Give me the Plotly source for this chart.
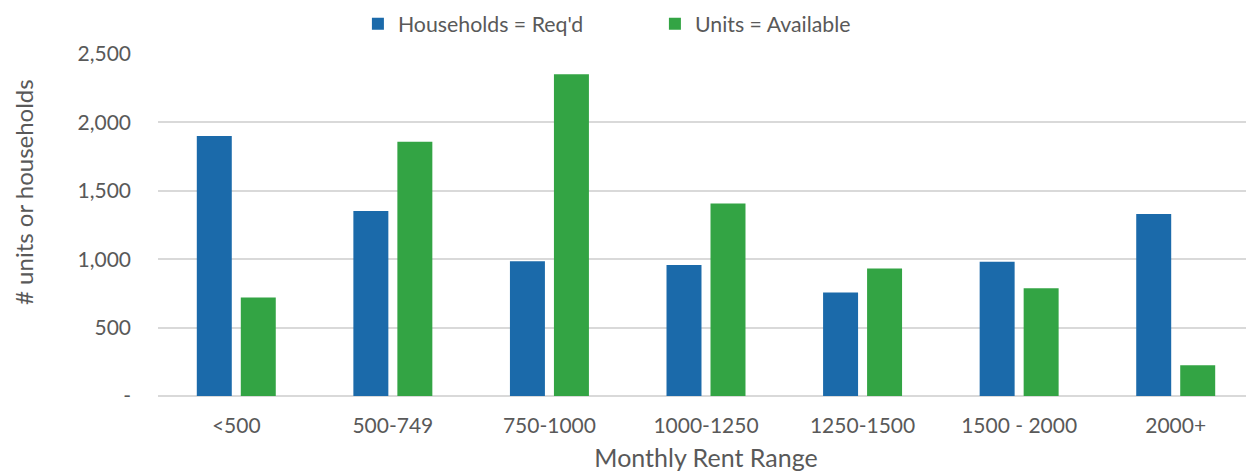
import plotly.graph_objects as go

categories = ["<500", "500-749", "750-1000", "1000-1250", "1250-1500", "1500 - 2000", "2000+"]
households = [1900, 1352, 985, 958, 757, 982, 1330]
units = [720, 1859, 2352, 1407, 932, 787, 224]
y_ticks = [0, 500, 1000, 1500, 2000, 2500]
y_tick_labels = ["-", "500", "1,000", "1,500", "2,000", "2,500"]

BLUE = "#1B6AAA"
GREEN = "#33A444"
TXT = "#595959"
FONT = "Lato"

fig = go.Figure()
fig.add_trace(go.Bar(name="Households = Req'd", x=categories, y=households,
                     marker=dict(color=BLUE, line=dict(width=0))))
fig.add_trace(go.Bar(name="Units = Available", x=categories, y=units,
                     marker=dict(color=GREEN, line=dict(width=0))))

# page body has an 8px margin, so the figure is sized/offset to compensate
fig.update_layout(
    width=1246, height=464,
    margin=dict(l=150, r=0, t=46, b=76, autoexpand=False),
    paper_bgcolor="white", plot_bgcolor="white",
    barmode="group", bargap=0.438, bargroupgap=0.205,
    font=dict(family=FONT, color=TXT, size=20),
    legend=dict(orientation="h", x=0.1824, xanchor="left", y=1.0877, yanchor="middle",
                yref="paper", entrywidth=252,
                font=dict(size=21.3, color=TXT)),
    xaxis=dict(showgrid=False, showline=False, ticks="", tickfont=dict(size=21, color=TXT),
               ticklabelstandoff=15,
               title=dict(text="Monthly Rent Range", font=dict(size=25, color=TXT), standoff=13)),
    yaxis=dict(range=[0, 2500], tickvals=y_ticks, ticktext=y_tick_labels,
               showgrid=True, gridcolor="#D9D9D9", gridwidth=1.5,
               zeroline=True, zerolinecolor="#D9D9D9", zerolinewidth=1.5,
               showline=False, ticks="", ticklabelstandoff=26,
               tickfont=dict(size=21, color=TXT)),
    annotations=[dict(text="# units or households", xref="paper", yref="paper",
                      x=-0.1223, y=0.5965, xanchor="center", yanchor="middle",
                      textangle=-90, showarrow=False, font=dict(size=24, color=TXT))],
)

fig.write_html("out.html")
